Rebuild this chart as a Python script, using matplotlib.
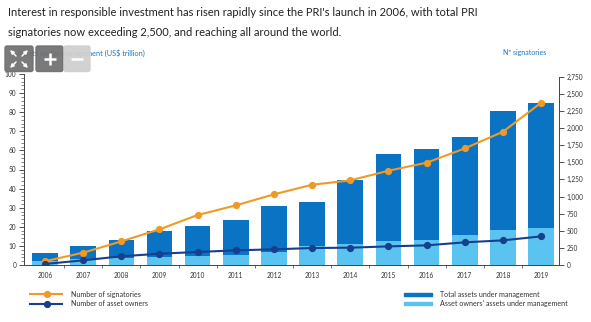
import matplotlib.pyplot as plt
import matplotlib.patches as patch
from matplotlib.ticker import MultipleLocator, FuncFormatter, FixedLocator
import numpy as np

plt.rcParams['font.family'] = ['Lato', 'DejaVu Sans']

years = ['2006', '2007', '2008', '2009', '2010', '2011', '2012',
         '2013', '2014', '2015', '2016', '2017', '2018', '2019']
total_aum = [6.4, 10.1, 13.0, 17.7, 20.6, 23.4, 31.0,
             33.2, 44.3, 58.1, 60.7, 67.2, 80.5, 85.0]
owner_aum = [2.3, 3.3, 3.8, 4.2, 4.7, 5.2, 7.0,
             10.1, 11.0, 12.6, 13.1, 15.7, 18.3, 19.5]
signatories = [55, 180, 345, 521, 730, 871, 1032,
               1172, 1236, 1377, 1494, 1703, 1946, 2370]
asset_owners = [15, 68, 127, 165, 190, 214, 229,
                248, 253, 272, 287, 331, 360, 418]

dark_blue = '#0a73c4'
light_blue = '#5bc3ef'
orange = '#f09a25'
navy = '#163f8c'
label_blue = '#1b78c2'

W, H = 591, 322
fig = plt.figure(figsize=(W / 100, H / 100), dpi=100)


def px(x0, y0, x1, y1):
    return [x0 / W, 1 - y1 / H, (x1 - x0) / W, (y1 - y0) / H]


fig.text(8 / W, 1 - 12 / H,
         "Interest in responsible investment has risen rapidly since the PRI's launch in 2006, with total PRI",
         fontsize=8.0, va='center', ha='left', color='#222222')
fig.text(8 / W, 1 - 33 / H,
         "signatories now exceeding 2,500, and reaching all around the world.",
         fontsize=8.0, va='center', ha='left', color='#222222')

ax = fig.add_axes(px(24, 74, 559, 265))
x = np.arange(len(years))

ax.bar(x, total_aum, width=0.67, color=dark_blue, zorder=2)
ax.bar(x, owner_aum, width=0.67, color=light_blue, zorder=3)

ax.set_xlim(-0.55, len(years) - 0.53)
ax.set_ylim(0, 100)
ax.yaxis.set_major_locator(MultipleLocator(10))
ax.yaxis.set_minor_locator(MultipleLocator(2))
ax.xaxis.set_major_locator(FixedLocator(x))
ax.set_xticklabels(years)
ax.xaxis.set_minor_locator(FixedLocator(x[:-1] + 0.5))
ax.tick_params(axis='x', which='major', length=0, labelsize=4.7, pad=5,
               colors='#333333')
ax.tick_params(axis='x', which='minor', length=2.5, width=0.6, colors='#555555')
ax.tick_params(axis='y', which='major', length=3.5, width=0.6, labelsize=4.7,
               pad=2, colors='#333333')
ax.tick_params(axis='y', which='minor', length=2, width=0.5, colors='#555555')
for s in ['top', 'right']:
    ax.spines[s].set_visible(False)
for s in ['left', 'bottom']:
    ax.spines[s].set_linewidth(0.7)
    ax.spines[s].set_color('#444444')

ax2 = ax.twinx()
ax2.plot(x, signatories, color=orange, lw=1.5, marker='o', ms=4.2, zorder=5)
ax2.plot(x, asset_owners, color=navy, lw=1.5, marker='o', ms=4.2, zorder=5)
ax2.set_ylim(0, 2790)
ax2.yaxis.set_major_locator(FixedLocator(np.arange(0, 2751, 250)))
ax2.yaxis.set_major_formatter(FuncFormatter(lambda v, p: f'{int(v):,}'))
ax2.tick_params(axis='y', length=3.5, width=0.6, labelsize=4.7, pad=2,
                colors='#333333')
for s in ['top', 'left', 'bottom']:
    ax2.spines[s].set_visible(False)
ax2.spines['right'].set_bounds(0, 2750)
ax2.spines['right'].set_linewidth(0.7)
ax2.spines['right'].set_color('#444444')

fig.text(17 / W, 1 - 53 / H, 'Assets under management (US$ trillion)',
         fontsize=5.3, color=label_blue, va='center', ha='left')
fig.text(546 / W, 1 - 53 / H, 'Nº signatories',
         fontsize=5.0, color=label_blue, va='center', ha='right')

# zoom toolbar in the corner
tb = fig.add_axes([0, 0, 1, 1], zorder=10)
tb.set_xlim(0, W)
tb.set_ylim(H, 0)
tb.axis('off')
tb.add_patch(patch.FancyBboxPatch((5, 46), 28, 25.5, boxstyle='round,pad=0,rounding_size=2',
                                  color='#6f6f6f', alpha=0.92))
tb.add_patch(patch.FancyBboxPatch((36, 46), 27, 25.5, boxstyle='round,pad=0,rounding_size=2',
                                  color='#6f6f6f', alpha=0.92))
tb.add_patch(patch.FancyBboxPatch((64, 46), 26, 25.5, boxstyle='round,pad=0,rounding_size=2',
                                  color='#cfcfcf', alpha=0.92))
for (x0, y0, dx, dy) in [(16, 56, -6, -6), (22, 56, 6, -6), (16, 62, -6, 6), (22, 62, 6, 6)]:
    tb.annotate('', xy=(x0 + dx, y0 + dy), xytext=(x0, y0),
                arrowprops=dict(arrowstyle='-|>', color='white', lw=1.1,
                                mutation_scale=5, shrinkA=0, shrinkB=0))
# plus / minus icons
tb.plot([43.5, 55.5], [59, 59], color='white', lw=1.8, solid_capstyle='butt')
tb.plot([49.5, 49.5], [53, 65], color='white', lw=1.8, solid_capstyle='butt')
tb.plot([71, 83], [59, 59], color='white', lw=1.8, solid_capstyle='butt')

# legend
tb.plot([30, 62], [294, 294], color=orange, lw=1.5)
tb.plot([47], [294], 'o', color=orange, ms=4.2)
tb.plot([30, 62], [304, 304], color=navy, lw=1.5)
tb.plot([47], [304], 'o', color=navy, ms=4.2)
tb.text(71, 294, 'Number of signatories', fontsize=5.1, va='center',
        color='#333333')
tb.text(71, 304, 'Number of asset owners', fontsize=5.1, va='center',
        color='#333333')
tb.add_patch(patch.Rectangle((404, 292.5), 28, 3.5, color=dark_blue))
tb.add_patch(patch.Rectangle((404, 301.5), 28, 3.5, color=light_blue))
tb.text(440, 294, 'Total assets under management', fontsize=5.1,
        va='center', color='#333333')
tb.text(440, 303.5, "Asset owners' assets under management", fontsize=5.1,
        va='center', color='#333333')

fig.savefig('out.png', dpi=100)
